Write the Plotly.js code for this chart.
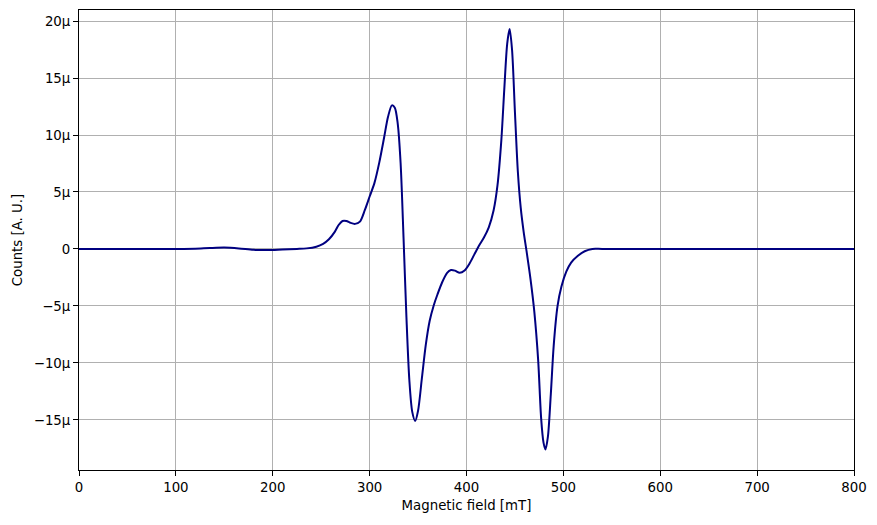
<!DOCTYPE html>
<html>
<head>
<meta charset="utf-8">
<script src="https://cdn.plot.ly/plotly-3.0.1.min.js"></script>
<style>html,body{margin:0;padding:0;background:#fff;}#chart{width:877px;height:525px;}</style>
</head>
<body>
<div id="chart"></div>
<script>
// Magnetic field [mT]
var fieldMT = [0, 50, 100, 120, 135, 150, 165, 180, 195, 210, 225, 235, 245, 252, 258, 264, 268, 272, 276, 280, 285, 290, 295, 300, 305, 310, 315, 319, 323, 326, 329, 332, 335, 338, 341, 344, 347, 350, 354, 358, 362, 366, 370, 375, 380, 384, 388, 393, 398, 403, 408, 413, 418, 423, 428, 432, 436, 439, 442, 444.5, 447, 450, 453, 456, 459, 462, 466, 470, 474, 477, 479.5, 481.5, 484, 487, 490, 494, 498, 503, 508, 515, 522, 530, 540, 600, 700, 800];
// Counts in micro units [µ A.U.]
var countsMicro = [0, 0, 0, 0.02, 0.08, 0.12, 0.05, -0.08, -0.1, -0.05, 0, 0.05, 0.2, 0.45, 0.85, 1.5, 2.1, 2.45, 2.45, 2.3, 2.2, 2.4, 3.4, 4.6, 5.8, 7.6, 9.8, 11.6, 12.6, 12.4, 11.0, 7.5, 1.0, -6.0, -11.5, -14.3, -15.1, -14.2, -11.3, -8.4, -6.3, -5.0, -4.0, -2.9, -2.1, -1.85, -1.9, -2.1, -1.9, -1.3, -0.5, 0.3, 1.0, 1.9, 3.4, 5.6, 9.6, 14.0, 18.0, 19.3, 17.5, 12.0, 6.8, 3.6, 1.5, -0.2, -2.6, -5.5, -9.8, -14.8, -17.0, -17.6, -16.5, -12.8, -8.5, -5.0, -3.3, -2.0, -1.2, -0.6, -0.2, 0, 0, 0, 0, 0];
var yTickVals = [-15, -10, -5, 0, 5, 10, 15, 20];
var yTickText = ["\u221215\u03bc", "\u221210\u03bc", "\u22125\u03bc", "0", "5\u03bc", "10\u03bc", "15\u03bc", "20\u03bc"];
var xTickVals = [0, 100, 200, 300, 400, 500, 600, 700, 800];

var font = {family: "DejaVu Sans, sans-serif", size: 13.33, color: "#000"};

Plotly.newPlot("chart", [{
  x: fieldMT,
  y: countsMicro,
  type: "scatter",
  mode: "lines",
  line: {color: "#000080", width: 2, shape: "spline", smoothing: 0.8},
  hoverinfo: "skip"
}], {
  width: 877, height: 525,
  margin: {l: 79, r: 23, t: 10, b: 55},
  paper_bgcolor: "#fff", plot_bgcolor: "#fff",
  font: font,
  showlegend: false,
  xaxis: {
    range: [0, 800], tickvals: xTickVals, ticktext: xTickVals.map(String),
    showgrid: true, gridcolor: "#b0b0b0", gridwidth: 1,
    zeroline: false, showline: true, mirror: true, linecolor: "#000", linewidth: 1,
    ticks: "outside", ticklen: 5, tickwidth: 1, tickcolor: "#000",
    tickfont: font,
    title: {text: "Magnetic field [mT]", font: font, standoff: 6}
  },
  yaxis: {
    range: [-19.4, 20.97], tickvals: yTickVals, ticktext: yTickText,
    showgrid: true, gridcolor: "#b0b0b0", gridwidth: 1,
    zeroline: false, showline: true, mirror: true, linecolor: "#000", linewidth: 1,
    ticks: "outside", ticklen: 5, tickwidth: 1, tickcolor: "#000",
    tickfont: font,
    title: {text: "Counts [A. U.]", font: font, standoff: 8}
  }
}, {displayModeBar: false, staticPlot: true});
</script>
</body>
</html>
